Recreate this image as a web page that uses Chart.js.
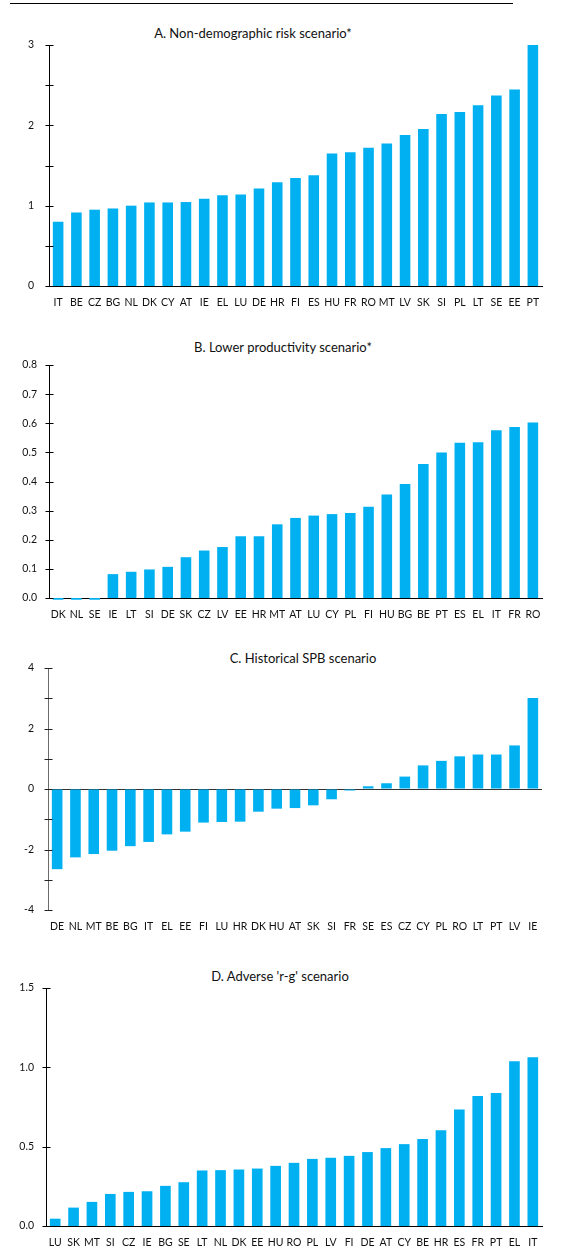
<!DOCTYPE html>
<html>
<head>
<meta charset="utf-8">
<script src="https://cdn.jsdelivr.net/npm/chart.js@4/dist/chart.umd.min.js"></script>
<style>
  html, body { margin: 0; padding: 0; background: #fff; }
  #page { position: relative; width: 569px; height: 1259px; overflow: hidden; font-family: Lato, "Noto Sans", sans-serif; }
  .rule { position: absolute; left: 10px; top: 3px; width: 503px; height: 1px; background: #000; }
  .title { position: absolute; transform: translate(-50%, -50%); white-space: nowrap; font-size: 13px; color: #111; }
  .panel { position: absolute; left: 0; width: 569px; }
</style>
</head>
<body>
<div id="page">
  <div class="rule"></div>
  <div class="title" style="left:253px; top:33px;">A. Non-demographic risk scenario*</div>
  <div class="title" style="left:283px; top:347px;">B. Lower productivity scenario*</div>
  <div class="title" style="left:303px; top:658px;">C. Historical SPB scenario</div>
  <div class="title" style="left:280px; top:976px;">D. Adverse 'r-g' scenario</div>
  <div class="panel" id="wrapA"><canvas id="chartA"></canvas></div>
  <div class="panel" id="wrapB"><canvas id="chartB"></canvas></div>
  <div class="panel" id="wrapC"><canvas id="chartC"></canvas></div>
  <div class="panel" id="wrapD"><canvas id="chartD"></canvas></div>
</div>
<script>
// A. Non-demographic risk scenario
const countriesA = ['IT','BE','CZ','BG','NL','DK','CY','AT','IE','EL','LU','DE','HR','FI','ES','HU','FR','RO','MT','LV','SK','SI','PL','LT','SE','EE','PT'];
const valuesA = [0.80,0.915,0.95,0.965,1.00,1.04,1.04,1.045,1.085,1.13,1.14,1.215,1.29,1.345,1.38,1.65,1.665,1.72,1.775,1.88,1.955,2.14,2.165,2.25,2.37,2.445,3.00];

// B. Lower productivity scenario
const countriesB = ['DK','NL','SE','IE','LT','SI','DE','SK','CZ','LV','EE','HR','MT','AT','LU','CY','PL','FI','HU','BG','BE','PT','ES','EL','IT','FR','RO'];
const valuesB = [-0.006,-0.006,-0.006,0.082,0.090,0.098,0.107,0.140,0.163,0.175,0.212,0.212,0.253,0.275,0.283,0.288,0.292,0.313,0.355,0.391,0.460,0.500,0.533,0.535,0.576,0.587,0.603];

// C. Historical SPB scenario
const countriesC = ['DE','NL','MT','BE','BG','IT','EL','EE','FI','LU','HR','DK','HU','AT','SK','SI','FR','SE','ES','CZ','CY','PL','RO','LT','PT','LV','IE'];
const valuesC = [-2.65,-2.26,-2.15,-2.04,-1.89,-1.75,-1.50,-1.41,-1.11,-1.09,-1.08,-0.75,-0.65,-0.63,-0.54,-0.34,-0.05,0.09,0.19,0.41,0.78,0.93,1.08,1.14,1.14,1.44,3.01];

// D. Adverse 'r-g' scenario
const countriesD = ['LU','SK','MT','SI','CZ','IE','BG','SE','LT','NL','DK','EE','HU','RO','PL','LV','FI','DE','AT','CY','BE','HR','ES','FR','PT','EL','IT'];
const valuesD = [0.046,0.116,0.152,0.202,0.215,0.219,0.253,0.276,0.350,0.352,0.356,0.362,0.379,0.398,0.423,0.430,0.442,0.466,0.491,0.516,0.548,0.603,0.735,0.819,0.838,1.039,1.064];

// Tick labels on the value axes
const ticksA = { min: 0, max: 3, step: 0.5, labels: [0, 1, 2, 3] };
const ticksB = { min: 0, max: 0.8, step: 0.1, labels: [0, 0.1, 0.2, 0.3, 0.4, 0.5, 0.6, 0.7, 0.8] };
const ticksC = { min: -4, max: 4, step: 1, labels: [-4, -2, 0, 2, 4] };
const ticksD = { min: 0, max: 1.5, step: 0.5, labels: [0, 0.5, 1, 1.5] };

const BAR = '#00B0F0';
const FONT = 'Lato, "Noto Sans", sans-serif';

// Small tick marks that cross the value axis on both sides
const crossTicks = {
  id: 'crossTicks',
  afterDraw(chart, args, opts) {
    const y = chart.scales.y;
    const ctx = chart.ctx;
    const x0 = Math.round(y.right) + 0.5;
    ctx.save();
    ctx.strokeStyle = opts.color || '#000';
    ctx.lineWidth = 1;
    y.ticks.forEach(t => {
      const py = Math.round(y.getPixelForValue(t.value)) + 0.5;
      ctx.beginPath();
      ctx.moveTo(x0 - 4, py);
      ctx.lineTo(x0 + 4, py);
      ctx.stroke();
    });
    ctx.restore();
  }
};

function makeChart(canvasId, wrapId, cfg) {
  const wrap = document.getElementById(wrapId);
  const padTop = 30, xAxisH = 30;
  wrap.style.top = (cfg.top - padTop) + 'px';
  wrap.style.height = (cfg.bottom - cfg.top + padTop + xAxisH) + 'px';
  const t = cfg.ticks;
  return new Chart(document.getElementById(canvasId), {
    type: 'bar',
    data: {
      labels: cfg.labels,
      datasets: [{
        data: cfg.values,
        backgroundColor: BAR,
        borderWidth: 0,
        barPercentage: 0.58,
        categoryPercentage: 1,
        clip: false
      }]
    },
    options: {
      responsive: true,
      maintainAspectRatio: false,
      animation: false,
      devicePixelRatio: 1,
      layout: { padding: { top: padTop, right: 569 - cfg.right, bottom: 0, left: 0 } },
      plugins: {
        legend: { display: false },
        title: { display: false },
        tooltip: { enabled: false },
        crossTicks: { color: cfg.tickColor || '#000' }
      },
      scales: {
        x: {
          grid: { display: false, drawTicks: false },
          border: { display: cfg.xBorder !== false, color: '#000', width: 1 },
          ticks: { font: { family: FONT, size: 10.5 }, color: '#111', padding: 10, maxRotation: 0, autoSkip: false },
          afterFit(scale) { scale.height = xAxisH; }
        },
        y: {
          min: t.min,
          max: t.max,
          grid: cfg.zeroLine ? {
            display: true,
            drawTicks: false,
            drawOnChartArea: true,
            color: c => (c.tick && c.tick.value === 0) ? '#333' : 'rgba(0,0,0,0)',
            lineWidth: 1
          } : { display: false, drawTicks: false },
          border: { display: true, color: cfg.axisColor || '#000', width: 1 },
          ticks: {
            stepSize: t.step,
            autoSkip: false,
            padding: cfg.labelGap,
            font: { family: FONT, size: 10.5 },
            color: '#111',
            callback: v => {
              const hit = t.labels.some(l => Math.abs(l - v) < 1e-9);
              if (!hit) return '';
              return cfg.decimals ? Number(v).toFixed(cfg.decimals) : String(Math.round(v));
            }
          },
          afterFit(scale) { scale.width = cfg.axisX; }
        }
      }
    },
    plugins: [crossTicks]
  });
}

makeChart('chartA', 'wrapA', { labels: countriesA, values: valuesA, ticks: ticksA, top: 45, bottom: 286, right: 542, axisX: 49, labelGap: 15, decimals: 0 });
makeChart('chartB', 'wrapB', { labels: countriesB, values: valuesB, ticks: ticksB, top: 365, bottom: 598, right: 542, axisX: 49, labelGap: 12, decimals: 1 });
makeChart('chartC', 'wrapC', { labels: countriesC, values: valuesC, ticks: ticksC, top: 668, bottom: 910, right: 542, axisX: 48, labelGap: 14, decimals: 0, xBorder: false, zeroLine: true, axisColor: '#6b6b6b', tickColor: '#222' });
makeChart('chartD', 'wrapD', { labels: countriesD, values: valuesD, ticks: ticksD, top: 988, bottom: 1226, right: 542, axisX: 46, labelGap: 12, decimals: 1 });
</script>
</body>
</html>
